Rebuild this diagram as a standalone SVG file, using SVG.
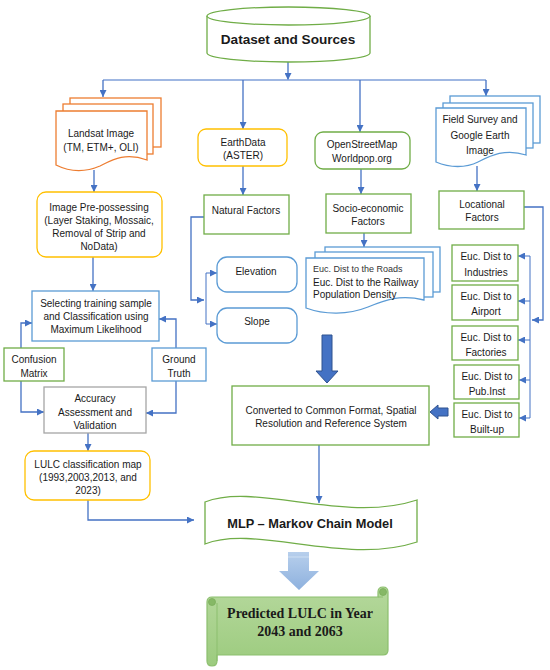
<svg xmlns="http://www.w3.org/2000/svg" width="550" height="670" viewBox="0 0 550 670">
<defs>
<marker id="ah" markerUnits="userSpaceOnUse" markerWidth="8" markerHeight="7" refX="7" refY="3.5" orient="auto">
<path d="M0,0 L7,3.5 L0,7 Z" fill="#4472C4"/>
</marker>
<linearGradient id="lb" x1="0" y1="0" x2="0" y2="1">
<stop offset="0" stop-color="#B7CFEC"/>
<stop offset="1" stop-color="#8EB1DE"/>
</linearGradient>
<linearGradient id="gr" x1="0" y1="0" x2="0" y2="1">
<stop offset="0" stop-color="#B5D89C"/>
<stop offset="1" stop-color="#9CCB7E"/>
</linearGradient>
<style>
text{font-family:"Liberation Sans",Arial,sans-serif;font-size:10px;fill:#1a1a1a;text-anchor:middle}
.b{font-weight:bold}
.l{text-anchor:start}
.sh{fill:#fff;stroke-width:1.3}
.or{stroke:#ED7D31}
.ye{stroke:#FFC000}
.gn{stroke:#70AD47}
.bl{stroke:#5B9BD5}
.gy{stroke:#A5A5A5}
#connectors path{fill:none;stroke:#4472C4;stroke-width:1.3}
#connectors path.a{marker-end:url(#ah)}
</style>
</defs>
<rect width="550" height="670" fill="#fff"/>

<g id="connectors">
<path class="a" d="M288,62 V80"/>
<path d="M103,80 H486" style="stroke:#7F9FD9"/>
<path class="a" d="M103,80 V97"/>
<path class="a" d="M243,80 V129"/>
<path class="a" d="M360,80 V132"/>
<path class="a" d="M486,80 V96"/>
<path class="a" d="M94,170 V192"/>
<path class="a" d="M93,257 V291"/>
<path class="a" d="M21,348 V323 H32"/>
<path class="a" d="M21,381 V412 H44"/>
<path class="a" d="M176,348 V319 H159"/>
<path class="a" d="M176,381 V413 H146"/>
<path class="a" d="M88,433 V451"/>
<path class="a" d="M88,500 V520 H194"/>
<path class="a" d="M243,166 V195"/>
<path class="a" d="M204,217 H191 V300 H204"/>
<path d="M206,273 V324" style="stroke-width:1"/>
<path class="a" d="M206,273 H217" style="stroke-width:1"/>
<path class="a" d="M206,324 H217" style="stroke-width:1"/>
<path class="a" d="M361,169 V194"/>
<path class="a" d="M364,233 V247"/>
<path class="a" d="M477,166 V191"/>
<path class="a" d="M524,207 H543 V320 H532"/>
<path d="M530,256 V418" style="stroke-width:1"/>
<path class="a" d="M530,256 H518" style="stroke-width:1"/>
<path class="a" d="M530,301 H518" style="stroke-width:1"/>
<path class="a" d="M530,340 H518" style="stroke-width:1"/>
<path class="a" d="M530,380 H519" style="stroke-width:1"/>
<path class="a" d="M530,418 H519" style="stroke-width:1"/>
<path class="a" d="M319,445 V503"/>
<polygon points="322,335 332,335 332,371 338,371 327,383 316,371 322,371" fill="#4472C4" stroke="#2F528F" stroke-width="1"/>
<polygon points="448,408 438,408 438,405 430,412 438,419 438,416 448,416" fill="#4472C4" stroke="#2F528F" stroke-width="1"/>
<polygon points="288,552 309,552 309,571 319,571 299,590 279,571 288,571" fill="url(#lb)"/>
<line x1="288" y1="557" x2="309" y2="557" stroke="#D6E4F5" stroke-width="0.8"/>
</g>

<g id="dataset">
<path class="sh gn" d="M207,16 V53 A81.5,9 0 0 0 370,53 V16"/>
<ellipse class="sh gn" cx="288.5" cy="16" rx="81.5" ry="9"/>
<text class="b" x="288" y="44" style="font-size:13.6px">Dataset and Sources</text>
</g>

<g id="landsat">
<rect class="sh or" x="70" y="98" width="91" height="49"/>
<rect class="sh or" x="63" y="104" width="90" height="50"/>
<path class="sh or" d="M56,111 H147 V160 C125,152 112,160 100,166 C86,172 70,172 56,165 Z"/>
<text x="101" y="136.5">Landsat Image</text>
<text x="101" y="150.5">(TM, ETM+, OLI)</text>
</g>

<g id="preprocess">
<rect class="sh ye" x="37" y="192" width="125" height="65" rx="9"/>
<text x="99" y="210.5">Image Pre-possessing</text>
<text x="99" y="223.5">(Layer Staking, Mossaic,</text>
<text x="99" y="236.5">Removal of Strip and</text>
<text x="99" y="249.5">NoData)</text>
</g>

<g id="selecting">
<rect class="sh bl" x="32" y="291" width="127" height="50"/>
<text x="96" y="306.5">Selecting training sample</text>
<text x="96" y="319.5">and Classification using</text>
<text x="96" y="332.5">Maximum Likelihood</text>
</g>

<g id="confusion">
<rect class="sh gn" x="4" y="348" width="60" height="33"/>
<text x="34" y="362.5">Confusion</text>
<text x="34" y="376.5">Matrix</text>
</g>

<g id="ground">
<rect class="sh bl" x="152" y="348" width="54" height="33"/>
<text x="179" y="362.5">Ground</text>
<text x="179" y="376.5">Truth</text>
</g>

<g id="accuracy">
<rect class="sh gy" x="44" y="387" width="102" height="46"/>
<text x="95" y="401.5">Accuracy</text>
<text x="95" y="415.5">Assessment and</text>
<text x="95" y="428.5">Validation</text>
</g>

<g id="lulc">
<rect class="sh ye" x="25" y="451" width="125" height="49" rx="9"/>
<text x="88" y="467.5">LULC classification map</text>
<text x="88" y="480.5">(1993,2003,2013, and</text>
<text x="88" y="493.5">2023)</text>
</g>

<g id="earthdata">
<rect class="sh ye" x="198" y="129" width="89" height="37" rx="8"/>
<text x="243" y="145.5">EarthData</text>
<text x="243" y="158.5">(ASTER)</text>
</g>

<g id="natural">
<rect class="sh gn" x="204" y="195" width="85" height="39"/>
<text x="246" y="213.5">Natural Factors</text>
</g>

<g id="elevation">
<rect class="sh bl" x="217" y="257" width="80" height="35" rx="10"/>
<text x="256" y="274.5">Elevation</text>
</g>

<g id="slope">
<rect class="sh bl" x="217" y="308" width="80" height="35" rx="10"/>
<text x="257" y="324.5">Slope</text>
</g>

<g id="osm">
<rect class="sh gn" x="315" y="132" width="95" height="37" rx="8"/>
<text x="362" y="147.5">OpenStreetMap</text>
<text x="362" y="161.5">Worldpop.org</text>
</g>

<g id="socio">
<rect class="sh gn" x="326" y="194" width="85" height="39"/>
<text x="368" y="211.5">Socio-economic</text>
<text x="368" y="224.5">Factors</text>
</g>

<g id="sociodocs">
<rect class="sh bl" x="325" y="247" width="115" height="45"/>
<rect class="sh bl" x="315" y="252" width="118" height="45"/>
<path class="sh bl" d="M306,258 H424 V300 C400,294 385,300 368,307 C348,315 325,315 306,308 Z"/>
<text class="l" x="313" y="272" style="font-size:9px;fill:#333">Euc. Dist to the Roads</text>
<text class="l" x="313" y="285.5">Euc. Dist to the Railway</text>
<text class="l" x="313" y="297.5">Population Density</text>
</g>

<g id="field">
<rect class="sh bl" x="450" y="96" width="90" height="47"/>
<rect class="sh bl" x="443" y="103" width="90" height="45"/>
<path class="sh bl" d="M436,108 H526 V155 C505,148 490,156 478,162 C466,168 450,168 436,162 Z"/>
<text x="480" y="122.5">Field Survey and</text>
<text x="480" y="138.5">Google Earth</text>
<text x="480" y="153.5">Image</text>
</g>

<g id="locational">
<rect class="sh gn" x="439" y="191" width="85" height="38"/>
<text x="482" y="207.5">Locational</text>
<text x="482" y="220.5">Factors</text>
</g>

<g id="industries">
<rect class="sh gn" x="452" y="245" width="66" height="36"/>
<text x="486" y="259.5">Euc. Dist to</text>
<text x="486" y="275.5">Industries</text>
</g>
<g id="airport">
<rect class="sh gn" x="452" y="285" width="66" height="35"/>
<text x="486" y="299.5">Euc. Dist to</text>
<text x="486" y="314.5">Airport</text>
</g>
<g id="factories">
<rect class="sh gn" x="452" y="326" width="66" height="34"/>
<text x="486" y="340.5">Euc. Dist to</text>
<text x="486" y="355.5">Factories</text>
</g>
<g id="pubinst">
<rect class="sh gn" x="454" y="365" width="65" height="34"/>
<text x="487" y="379.5">Euc. Dist to</text>
<text x="487" y="394.5">Pub.Inst</text>
</g>
<g id="builtup">
<rect class="sh gn" x="454" y="403" width="65" height="34"/>
<text x="487" y="417.5">Euc. Dist to</text>
<text x="487" y="433">Built-up</text>
</g>

<g id="converted">
<rect class="sh gn" x="232" y="386" width="197" height="59"/>
<text x="331" y="413.5">Converted to Common Format, Spatial</text>
<text x="331" y="426.5">Resolution and Reference System</text>
</g>

<g id="mlp">
<path class="sh gn" d="M205,502 C255,482 345,524 417,500 V542 C345,566 255,524 205,544 Z"/>
<text class="b" x="310" y="527.5" style="font-size:12.8px">MLP – Markov Chain Model</text>
</g>

<g id="predicted">
<path d="M207,602 Q207,597 212,597 H378 V592 Q378,587 383,587 Q388,587 388,592 V650 Q388,655 383,655 H217 V661 Q217,666 212,666 Q207,666 207,661 Z" fill="url(#gr)" stroke="#8CBF6E" stroke-width="1.2"/>
<circle cx="212" cy="602" r="3.5" fill="#86B866" stroke="#7AAE5B" stroke-width="0.8"/>
<circle cx="383" cy="592" r="3.5" fill="#86B866" stroke="#7AAE5B" stroke-width="0.8"/>
<path d="M217,603 V661 M378,597 H383" fill="none" stroke="#8CBF6E" stroke-width="1"/>
<text class="b" x="300" y="618" style="font-family:'Liberation Serif','Times New Roman',serif;font-size:14px">Predicted LULC in Year</text>
<text class="b" x="300" y="636" style="font-family:'Liberation Serif','Times New Roman',serif;font-size:14px">2043 and 2063</text>
</g>
</svg>
